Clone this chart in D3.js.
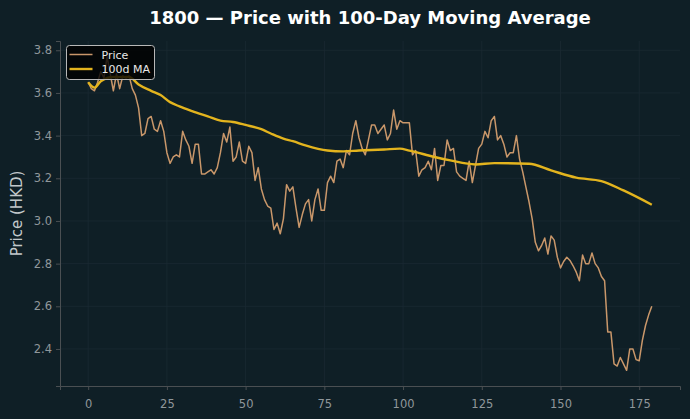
<!DOCTYPE html>
<html>
<head>
<meta charset="utf-8">
<script src="https://cdn.jsdelivr.net/npm/d3@7/dist/d3.min.js"></script>
<style>
  html, body { margin: 0; padding: 0; background: #0f1f26; }
  svg { display: block; }
</style>
</head>
<body>
<svg id="chart" width="690" height="419"></svg>
<script>
// ---- Data ----
const titleText = "1800 — Price with 100-Day Moving Average";
const yLabel = "Price (HKD)";
const seriesNames = ["Price", "100d MA"];

const price = [
  3.65, 3.62, 3.61, 3.65, 3.70, 3.67, 3.77, 3.69, 3.61, 3.69,
  3.62, 3.68, 3.67, 3.68, 3.62, 3.59, 3.53, 3.40, 3.41, 3.48,
  3.49, 3.43, 3.42, 3.47, 3.42, 3.32, 3.27, 3.30, 3.31, 3.30,
  3.42, 3.38, 3.35, 3.27, 3.36, 3.36, 3.22, 3.22, 3.23, 3.24,
  3.22, 3.25, 3.32, 3.41, 3.37, 3.44, 3.28, 3.30, 3.37, 3.28,
  3.27, 3.35, 3.32, 3.19, 3.25, 3.15, 3.10, 3.07, 3.06, 2.96,
  2.99, 2.94, 3.01, 3.17, 3.14, 3.16, 3.06, 2.97, 3.03, 3.08,
  3.10, 3.00, 3.10, 3.15, 3.05, 3.05, 3.18, 3.21, 3.18, 3.28,
  3.29, 3.25, 3.33, 3.31, 3.41, 3.47, 3.39, 3.34, 3.31, 3.38,
  3.45, 3.45, 3.41, 3.43, 3.45, 3.38, 3.41, 3.52, 3.43, 3.47,
  3.46, 3.46, 3.46, 3.31, 3.33, 3.21, 3.24, 3.25, 3.28, 3.24,
  3.34, 3.19, 3.26, 3.26, 3.38, 3.33, 3.34, 3.23, 3.21, 3.20,
  3.19, 3.28, 3.18, 3.26, 3.34, 3.36, 3.42, 3.39, 3.47, 3.49,
  3.38, 3.40, 3.36, 3.30, 3.32, 3.32, 3.40, 3.29, 3.23, 3.16,
  3.09, 3.01, 2.90, 2.86, 2.885, 2.92, 2.845, 2.93, 2.91, 2.83,
  2.78, 2.81, 2.83, 2.815, 2.79, 2.76, 2.72, 2.84, 2.80, 2.80,
  2.85, 2.80, 2.78, 2.74, 2.72, 2.48, 2.48, 2.33, 2.32, 2.36,
  2.33, 2.30, 2.40, 2.40, 2.35, 2.345, 2.44, 2.51, 2.56, 2.60
];
const days = price.map((_, i) => i);

const maDays = [0, 2, 4, 8, 13, 16, 20, 23, 26, 29, 33, 38, 42, 46, 50, 55, 58, 62, 65, 69,
                76, 81, 86, 94, 99, 102, 110, 115, 123, 129, 140, 147, 155, 163, 170, 179];
const maValues = [3.65, 3.625, 3.655, 3.675, 3.675, 3.64, 3.61, 3.59, 3.557, 3.537, 3.515, 3.49,
                  3.47, 3.464, 3.45, 3.43, 3.41, 3.386, 3.374, 3.354, 3.33, 3.326, 3.33, 3.335,
                  3.339, 3.33, 3.30, 3.284, 3.265, 3.271, 3.268, 3.237, 3.203, 3.187, 3.143, 3.076];

const xTicks = [0, 25, 50, 75, 100, 125, 150, 175];
const yTicks = [2.4, 2.6, 2.8, 3.0, 3.2, 3.4, 3.6, 3.8];

// ---- Layout ----
const W = 690, H = 419;
const margin = { left: 60, right: 10, top: 41, bottom: 33 };
const plotW = W - margin.left - margin.right;
const plotH = H - margin.top - margin.bottom;

const colors = { bg: "#0f1f26", price: "#c9976a", ma: "#e3b41e", grid: "#1a2a32",
                 spine: "#4a4f52", tick: "#8f979b", text: "#ffffff", label: "#c2c8cb" };

const svg = d3.select("#chart");
svg.append("rect").attr("width", W).attr("height", H).attr("fill", colors.bg);

const xMin = d3.min(days), xMax = d3.max(days);
const xPad = (xMax - xMin) * 0.05;
const allY = price.concat(maValues);
const yMin = d3.min(allY), yMax = d3.max(allY);
const yPad = (yMax - yMin) * 0.05;

const x = d3.scaleLinear().domain([xMin - xPad, xMax + xPad]).range([0, plotW]);
const y = d3.scaleLinear().domain([yMin - yPad, yMax + yPad]).range([plotH, 0]);

const g = svg.append("g").attr("transform", `translate(${margin.left},${margin.top})`);

// grid
g.append("g").selectAll("line").data(xTicks).join("line")
  .attr("x1", d => x(d)).attr("x2", d => x(d)).attr("y1", 0).attr("y2", plotH)
  .attr("stroke", colors.grid).attr("stroke-width", 0.8);
g.append("g").selectAll("line").data(yTicks).join("line")
  .attr("y1", d => y(d)).attr("y2", d => y(d)).attr("x1", 0).attr("x2", plotW)
  .attr("stroke", colors.grid).attr("stroke-width", 0.8);

// axes
const xAxis = d3.axisBottom(x).tickValues(xTicks).tickFormat(d3.format("d")).tickSize(4).tickPadding(4);
const yAxis = d3.axisLeft(y).tickValues(yTicks).tickFormat(d3.format(".1f")).tickSize(4).tickPadding(4);

const gx = g.append("g").attr("transform", `translate(0,${plotH})`).call(xAxis);
const gy = g.append("g").call(yAxis);
[gx, gy].forEach(ax => {
  ax.select(".domain").attr("stroke", colors.spine).attr("stroke-width", 1);
  ax.selectAll(".tick line").attr("stroke", colors.spine).attr("stroke-width", 1);
  ax.selectAll(".tick text").attr("fill", colors.tick)
    .style("font-family", "DejaVu Sans").style("font-size", "11.5px");
});
gx.selectAll(".tick text").attr("dy", "1.25em");

// lines
const priceLine = d3.line().x((d, i) => x(days[i])).y(d => y(d));
g.append("path").datum(price).attr("d", priceLine)
  .attr("fill", "none").attr("stroke", colors.price).attr("stroke-width", 1.5)
  .attr("stroke-linejoin", "round");

const maLine = d3.line().curve(d3.curveMonotoneX).x((d, i) => x(maDays[i])).y(d => y(d));
g.append("path").datum(maValues).attr("d", maLine)
  .attr("fill", "none").attr("stroke", colors.ma).attr("stroke-width", 2.4)
  .attr("stroke-linejoin", "round");

// title
svg.append("text").attr("x", margin.left + plotW / 2).attr("y", 24)
  .attr("text-anchor", "middle").attr("fill", colors.text)
  .style("font-family", "DejaVu Sans").style("font-weight", "bold").style("font-size", "18px")
  .text(titleText);

// y label
svg.append("text").attr("transform", `translate(22,${margin.top + plotH / 2}) rotate(-90)`)
  .attr("text-anchor", "middle").attr("fill", colors.label)
  .style("font-family", "DejaVu Sans").style("font-size", "15px")
  .text(yLabel);

// legend
const lg = svg.append("g").attr("transform", "translate(66.5,45.5)");
lg.append("rect").attr("width", 88).attr("height", 34).attr("rx", 3)
  .attr("fill", "#000000").attr("fill-opacity", 0.8)
  .attr("stroke", "#b8b8b8").attr("stroke-width", 1);
const legendColors = [colors.price, colors.ma];
const legendWidths = [1.5, 2.4];
seriesNames.forEach((name, i) => {
  const yy = 9 + i * 14.5;
  lg.append("line").attr("x1", 3).attr("x2", 26).attr("y1", yy).attr("y2", yy)
    .attr("stroke", legendColors[i]).attr("stroke-width", legendWidths[i]);
  lg.append("text").attr("x", 35).attr("y", yy + 4).attr("fill", "#e8e8e8")
    .style("font-family", "DejaVu Sans").style("font-size", "11px").text(name);
});
</script>
</body>
</html>
